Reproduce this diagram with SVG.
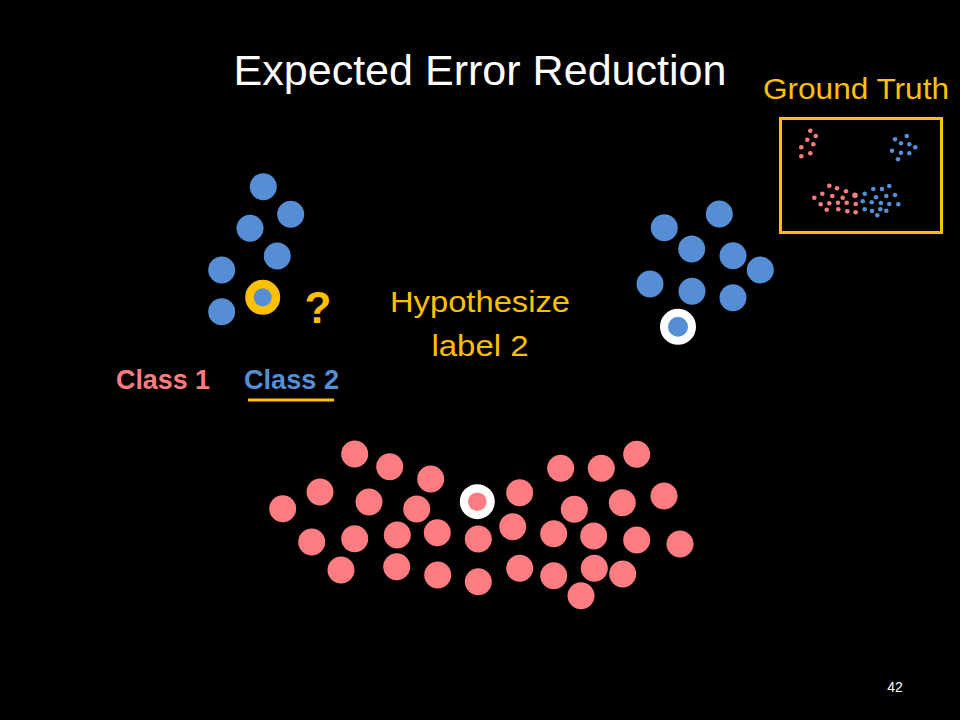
<svg xmlns="http://www.w3.org/2000/svg" width="960" height="720" viewBox="0 0 960 720">
<style>
.b{fill:#558ED5}
.r{fill:#FF7C80}
.t{font-family:"Liberation Sans",Arial,sans-serif}
.y{fill:#FFC000}
</style>
<rect x="0" y="0" width="960" height="720" fill="#000"/>
<text class="t" x="480" y="85" font-size="42" fill="#fff" text-anchor="middle" textLength="493" lengthAdjust="spacingAndGlyphs">Expected Error Reduction</text>

<g id="ground-truth">
<text class="t y" x="856" y="99" font-size="30" text-anchor="middle" textLength="186" lengthAdjust="spacingAndGlyphs">Ground Truth</text>
<rect x="780.5" y="118.5" width="161" height="114" fill="none" stroke="#FFC000" stroke-width="3"/>
<g class="r">
<circle cx="810.3" cy="130.7" r="2.3"/><circle cx="815.7" cy="136" r="2.3"/><circle cx="807.3" cy="139.7" r="2.3"/><circle cx="813.3" cy="144.3" r="2.3"/><circle cx="801.3" cy="147.3" r="2.3"/><circle cx="810.3" cy="153.3" r="2.3"/><circle cx="801.3" cy="156.3" r="2.3"/>
<circle cx="829.3" cy="185.7" r="2.3"/><circle cx="837" cy="188.3" r="2.3"/><circle cx="822.3" cy="193.7" r="2.3"/><circle cx="846" cy="191.3" r="2.3"/><circle cx="832.3" cy="196" r="2.3"/><circle cx="855" cy="195.3" r="2.8"/><circle cx="814.3" cy="197.7" r="2.3"/><circle cx="842.7" cy="197.7" r="2.3"/><circle cx="829.3" cy="203.3" r="2.3"/><circle cx="838" cy="202.7" r="2.3"/><circle cx="846.7" cy="202.7" r="2.3"/><circle cx="820.7" cy="204.3" r="2.3"/><circle cx="855.7" cy="204" r="2.3"/><circle cx="826.7" cy="209.7" r="2.3"/><circle cx="838.3" cy="209.3" r="2.3"/><circle cx="847.3" cy="211.3" r="2.3"/><circle cx="855.7" cy="212.3" r="2.3"/>
</g>
<g class="b">
<circle cx="906.7" cy="136" r="2.3"/><circle cx="895" cy="139.3" r="2.3"/><circle cx="901" cy="143.3" r="2.3"/><circle cx="909.3" cy="144.3" r="2.3"/><circle cx="915.3" cy="147.3" r="2.3"/><circle cx="892" cy="150.7" r="2.3"/><circle cx="901" cy="152.7" r="2.3"/><circle cx="909.3" cy="153.3" r="2.3"/><circle cx="898" cy="159.3" r="2.3"/>
<circle cx="889.3" cy="186" r="2.3"/><circle cx="873.3" cy="189" r="2.3"/><circle cx="882" cy="189" r="2.3"/><circle cx="864.7" cy="193.7" r="2.3"/><circle cx="886.3" cy="196" r="2.3"/><circle cx="895" cy="195" r="2.3"/><circle cx="876" cy="197.3" r="2.3"/><circle cx="862.7" cy="201.3" r="2.3"/><circle cx="871.7" cy="202.3" r="2.3"/><circle cx="881" cy="203" r="2.3"/><circle cx="889.3" cy="204" r="2.3"/><circle cx="898.3" cy="204.3" r="2.3"/><circle cx="864.7" cy="209.3" r="2.3"/><circle cx="872" cy="211" r="2.3"/><circle cx="880.3" cy="209.3" r="2.3"/><circle cx="886.3" cy="210.7" r="2.3"/><circle cx="877.3" cy="215.3" r="2.3"/>
</g>
</g>

<g id="cluster-left" class="b">
<circle cx="263.3" cy="186.7" r="13.5"/><circle cx="290.7" cy="214.3" r="13.5"/><circle cx="250" cy="228.3" r="13.5"/><circle cx="277.3" cy="256" r="13.5"/><circle cx="221.7" cy="270" r="13.5"/><circle cx="221.7" cy="311.7" r="13.5"/>
</g>
<g id="query-point">
<circle cx="262.7" cy="297.3" r="13.25" fill="#558ED5" stroke="#FFC000" stroke-width="8.5"/>
<text class="t y" x="318" y="323" font-size="44" font-weight="bold" text-anchor="middle">?</text>
</g>

<g id="cluster-right" class="b">
<circle cx="664.3" cy="227.7" r="13.5"/><circle cx="719.3" cy="214" r="13.5"/><circle cx="691.7" cy="249" r="13.5"/><circle cx="733" cy="255.7" r="13.5"/><circle cx="760.3" cy="270" r="13.5"/><circle cx="650" cy="284" r="13.5"/><circle cx="692" cy="291.3" r="13.5"/><circle cx="733" cy="297.7" r="13.5"/>
<circle cx="678" cy="326.7" r="14" stroke="#fff" stroke-width="8"/>
</g>

<g id="hypothesis">
<text class="t y" x="480" y="312" font-size="30" text-anchor="middle" textLength="180" lengthAdjust="spacingAndGlyphs">Hypothesize</text>
<text class="t y" x="480" y="356" font-size="30" text-anchor="middle" textLength="97" lengthAdjust="spacingAndGlyphs">label 2</text>
</g>

<g id="legend">
<text class="t r" x="116" y="389" font-size="27" font-weight="bold" textLength="94" lengthAdjust="spacingAndGlyphs">Class 1</text>
<text class="t b" x="244" y="389" font-size="27" font-weight="bold" textLength="95" lengthAdjust="spacingAndGlyphs">Class 2</text>
<line x1="248" y1="400" x2="334" y2="400" stroke="#FFC000" stroke-width="3"/>
</g>

<g id="cluster-bottom" class="r">
<circle cx="354.7" cy="454" r="13.5"/><circle cx="389.7" cy="466.7" r="13.5"/><circle cx="430.7" cy="479" r="13.5"/><circle cx="320" cy="492" r="13.5"/><circle cx="282.7" cy="508.7" r="13.5"/><circle cx="369" cy="502" r="13.5"/><circle cx="416.7" cy="509" r="13.5"/>
<circle cx="519.7" cy="492.7" r="13.5"/><circle cx="560.7" cy="468.3" r="13.5"/><circle cx="601.3" cy="468.3" r="13.5"/><circle cx="636.7" cy="454.3" r="13.5"/><circle cx="574.3" cy="509.3" r="13.5"/><circle cx="622.3" cy="502.7" r="13.5"/><circle cx="664" cy="496" r="13.5"/>
<circle cx="311.7" cy="542" r="13.5"/><circle cx="354.7" cy="538.7" r="13.5"/><circle cx="397.3" cy="535" r="13.5"/><circle cx="437.3" cy="532.7" r="13.5"/><circle cx="478.3" cy="539" r="13.5"/><circle cx="512.7" cy="526.7" r="13.5"/><circle cx="553.7" cy="533.7" r="13.5"/><circle cx="593.7" cy="536" r="13.5"/><circle cx="636.7" cy="540" r="13.5"/><circle cx="680" cy="544" r="13.5"/>
<circle cx="341" cy="570" r="13.5"/><circle cx="396.7" cy="566.7" r="13.5"/><circle cx="437.7" cy="575" r="13.5"/><circle cx="478.3" cy="581.7" r="13.5"/><circle cx="519.7" cy="568.3" r="13.5"/><circle cx="553.7" cy="575.7" r="13.5"/><circle cx="594.3" cy="568.3" r="13.5"/><circle cx="622.7" cy="574" r="13.5"/><circle cx="581" cy="595.7" r="13.5"/>
<circle cx="477.3" cy="501.7" r="13.4" stroke="#fff" stroke-width="8.2"/>
</g>

<text class="t" x="895" y="692" font-size="14" fill="#fff" text-anchor="middle">42</text>
</svg>
